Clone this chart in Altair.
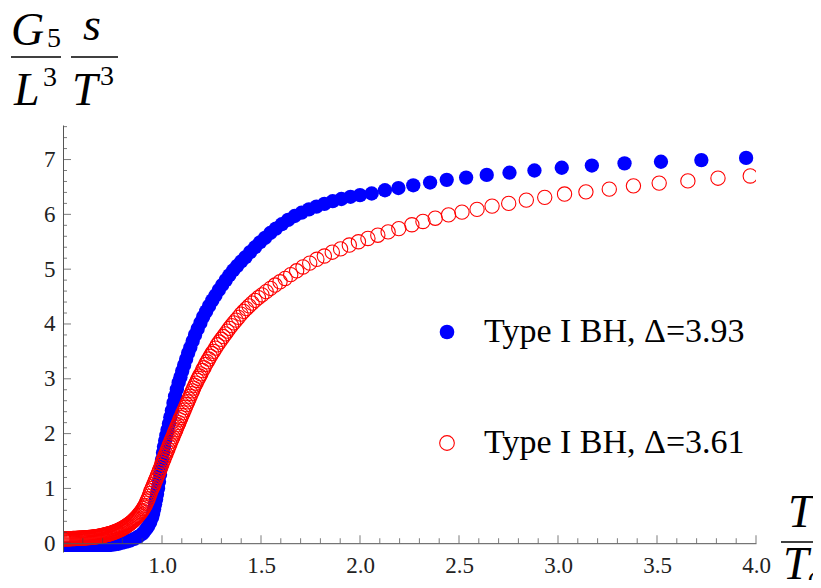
import altair as alt
import pandas as pd

LAB_B = "Type I BH, Δ=3.93"
LAB_R = "Type I BH, Δ=3.61"

blue_T = [0.50, 0.52, 0.54, 0.56, 0.58, 0.60, 0.62, 0.64, 0.66, 0.68, 0.70, 0.72, 0.74, 0.76, 0.78,
          0.80, 0.82, 0.84, 0.86, 0.88, 0.90, 0.91, 0.92, 0.93, 0.94, 0.95, 0.955, 0.96, 0.965, 0.97,
          0.975, 0.98, 0.985, 0.99, 0.995, 1.000, 1.005, 1.010, 1.016, 1.022, 1.028, 1.035, 1.042,
          1.050, 1.058, 1.066, 1.075, 1.084, 1.093, 1.102, 1.112, 1.122, 1.132, 1.143, 1.155, 1.167,
          1.180, 1.194, 1.208, 1.223, 1.238, 1.254, 1.270, 1.287, 1.304, 1.322, 1.340, 1.360, 1.380,
          1.400, 1.422, 1.445, 1.470, 1.495, 1.520, 1.547, 1.575, 1.605, 1.637, 1.670, 1.705, 1.742,
          1.780, 1.820, 1.862, 1.906, 1.952, 2.000,
          2.059, 2.126, 2.194, 2.269, 2.354, 2.438, 2.536, 2.640, 2.755, 2.881, 3.019, 3.171, 3.336,
          3.520, 3.724, 3.950]
blue_S = [-0.10, -0.10, -0.09, -0.09, -0.08, -0.08, -0.07, -0.07, -0.06, -0.05, -0.05, -0.04, -0.03, -0.02, -0.01,
          0.01, 0.03, 0.05, 0.08, 0.12, 0.17, 0.21, 0.26, 0.31, 0.38, 0.47, 0.54, 0.62, 0.71, 0.80,
          0.90, 1.00, 1.12, 1.25, 1.38, 1.52, 1.65, 1.76, 1.87, 1.97, 2.07, 2.18, 2.30,
          2.42, 2.56, 2.68, 2.81, 2.93, 3.03, 3.14, 3.25, 3.36, 3.47, 3.57, 3.69, 3.80,
          3.91, 4.02, 4.13, 4.23, 4.33, 4.43, 4.52, 4.62, 4.71, 4.80, 4.89, 4.98, 5.06,
          5.14, 5.22, 5.31, 5.40, 5.49, 5.57, 5.66, 5.74, 5.82, 5.90, 5.97, 6.03, 6.09,
          6.14, 6.19, 6.24, 6.28, 6.32, 6.35,
          6.38, 6.44, 6.48, 6.53, 6.58, 6.63, 6.67, 6.72, 6.76, 6.80, 6.85, 6.89, 6.93,
          6.96, 6.99, 7.03]

red_T = [0.500, 0.505, 0.510, 0.515, 0.520, 0.525, 0.530, 0.535, 0.540, 0.545,
         0.550, 0.555, 0.560, 0.565, 0.570, 0.575, 0.580, 0.585, 0.590, 0.595,
         0.600, 0.605, 0.610, 0.615, 0.620, 0.625, 0.630, 0.635, 0.640, 0.645,
         0.650, 0.655, 0.660, 0.665, 0.670, 0.675, 0.680, 0.685, 0.690, 0.695,
         0.700, 0.705, 0.710, 0.715, 0.720, 0.725, 0.730, 0.735, 0.740, 0.745,
         0.750, 0.755, 0.760, 0.765, 0.770, 0.775, 0.780, 0.785, 0.790, 0.795,
         0.800, 0.805, 0.810, 0.815, 0.820, 0.825, 0.830, 0.835, 0.840, 0.845,
         0.850, 0.855, 0.860, 0.865, 0.870, 0.875, 0.880, 0.885, 0.890,
         0.895, 0.900, 0.905, 0.910, 0.915, 0.920, 0.925, 0.930, 0.935, 0.940, 0.945, 0.950, 0.955,
         0.960, 0.965, 0.970, 0.975, 0.980, 0.985, 0.990, 0.995, 1.000, 1.005, 1.010, 1.015, 1.020,
         1.025, 1.030, 1.035, 1.040, 1.045, 1.050, 1.055, 1.060, 1.065, 1.070, 1.075, 1.080, 1.085,
         1.090, 1.095, 1.100,
         1.106, 1.112, 1.118, 1.124, 1.130, 1.136, 1.142, 1.148, 1.154, 1.160, 1.166, 1.172, 1.178,
         1.184, 1.190, 1.196,
         1.204, 1.212, 1.220, 1.228, 1.236, 1.244, 1.252, 1.260,
         1.270, 1.280, 1.290, 1.300, 1.310, 1.320, 1.330, 1.340,
         1.351, 1.362, 1.374, 1.386, 1.399, 1.412, 1.426, 1.440, 1.455, 1.470, 1.487, 1.505, 1.526,
         1.548, 1.571, 1.596, 1.622, 1.650, 1.680, 1.712, 1.746, 1.782, 1.820, 1.860, 1.902, 1.946,
         1.992, 2.040, 2.090, 2.142, 2.196, 2.262, 2.318, 2.380, 2.447, 2.515, 2.591, 2.667, 2.751,
         2.840, 2.933, 3.033, 3.141, 3.259, 3.381, 3.511, 3.656, 3.808, 3.971]
red_S = [0.080, 0.080, 0.081, 0.081, 0.082, 0.082, 0.083, 0.083, 0.084, 0.084,
         0.085, 0.086, 0.087, 0.088, 0.089, 0.090, 0.091, 0.092, 0.093, 0.094,
         0.095, 0.096, 0.097, 0.099, 0.100, 0.102, 0.103, 0.105, 0.107, 0.109,
         0.111, 0.113, 0.115, 0.118, 0.121, 0.124, 0.127, 0.130, 0.133, 0.137,
         0.141, 0.145, 0.149, 0.153, 0.158, 0.163, 0.168, 0.173, 0.179, 0.185,
         0.191, 0.197, 0.204, 0.211, 0.218, 0.226, 0.234, 0.242, 0.251, 0.260,
         0.270, 0.280, 0.291, 0.302, 0.314, 0.326, 0.339, 0.352, 0.366, 0.380,
         0.395, 0.411, 0.428, 0.446, 0.465, 0.485, 0.506, 0.528, 0.550,
         0.575, 0.60, 0.63, 0.66, 0.69, 0.73, 0.77, 0.81, 0.86, 0.91, 0.96, 1.00, 1.04,
         1.08, 1.13, 1.17, 1.22, 1.26, 1.31, 1.35, 1.40, 1.45, 1.50, 1.54, 1.59, 1.63,
         1.68, 1.72, 1.77, 1.81, 1.86, 1.90, 1.94, 1.99, 2.03, 2.07, 2.12, 2.16, 2.20,
         2.25, 2.29, 2.33,
         2.38, 2.43, 2.48, 2.53, 2.58, 2.63, 2.68, 2.73, 2.78, 2.83, 2.88, 2.92, 2.97,
         3.01, 3.05, 3.09,
         3.15, 3.20, 3.26, 3.31, 3.36, 3.41, 3.46, 3.50,
         3.56, 3.62, 3.67, 3.72, 3.77, 3.82, 3.87, 3.92,
         3.97, 4.02, 4.07, 4.12, 4.18, 4.23, 4.28, 4.33, 4.38, 4.43, 4.48, 4.53, 4.59,
         4.65, 4.71, 4.77, 4.83, 4.90, 4.97, 5.04, 5.11, 5.18, 5.24, 5.31, 5.37, 5.44,
         5.50, 5.56, 5.62, 5.68, 5.74, 5.81, 5.87, 5.93, 5.99, 6.04, 6.09, 6.15, 6.20,
         6.26, 6.31, 6.37, 6.41, 6.46, 6.52, 6.57, 6.61, 6.66, 6.70]

x_major = [1.0, 1.5, 2.0, 2.5, 3.0, 3.5, 4.0]
x_minor = [0.6, 0.7, 0.8, 0.9, 1.1, 1.2, 1.3, 1.4, 1.6, 1.7, 1.8, 1.9, 2.1, 2.2, 2.3, 2.4,
           2.6, 2.7, 2.8, 2.9, 3.1, 3.2, 3.3, 3.4, 3.6, 3.7, 3.8, 3.9]
y_major = [0, 1, 2, 3, 4, 5, 6, 7]
y_minor = [0.2, 0.4, 0.6, 0.8, 1.2, 1.4, 1.6, 1.8, 2.2, 2.4, 2.6, 2.8, 3.2, 3.4, 3.6, 3.8,
           4.2, 4.4, 4.6, 4.8, 5.2, 5.4, 5.6, 5.8, 6.2, 6.4, 6.6, 6.8, 7.2, 7.4, 7.6]

df = pd.DataFrame({
    "T": blue_T + red_T,
    "S": blue_S + red_S,
    "series": [LAB_B] * len(blue_T) + [LAB_R] * len(red_T),
})

SERIF = "Liberation Serif"
AXC = "#555555"
TKC = "#444444"
W, H = 693, 427
xs = alt.Scale(domain=[0.5, 4.0], nice=False, zero=False)
ys = alt.Scale(domain=[-0.16, 7.63], nice=False, zero=False)

xaxis = alt.Axis(values=x_major, format=".1f", ticks=False, tickSize=0, grid=False,
                 domainColor=AXC, domainWidth=1, labelFont=SERIF, labelFontSize=23,
                 labelColor="#222222", labelPadding=11, offset=-8.8, title=None,
                 zindex=1, labelFlush=False, labelOverlap=False)
yaxis = alt.Axis(values=y_major, format="d", ticks=False, tickSize=0, grid=False,
                 domainColor=AXC, domainWidth=1, labelFont=SERIF, labelFontSize=23,
                 labelColor="#222222", labelPadding=8, title=None, zindex=1,
                 labelFlush=False, labelOverlap=False)

legend = alt.Legend(title=None, orient="none", legendX=367, legendY=190, direction="vertical",
                    labelFont=SERIF, labelFontSize=34, labelColor="black", labelLimit=600,
                    labelOffset=20, rowPadding=77, symbolSize=215, symbolStrokeWidth=1.1,
                    symbolType="circle", padding=0)
dom = [LAB_B, LAB_R]

points = alt.Chart(df).mark_point(shape="circle", size=205, opacity=1, strokeWidth=1.1, clip=True).encode(
    x=alt.X("T:Q", scale=xs, axis=xaxis),
    y=alt.Y("S:Q", scale=ys, axis=yaxis),
    fill=alt.Fill("series:N", scale=alt.Scale(domain=dom, range=["#0000ff", "transparent"]), legend=legend),
    stroke=alt.Stroke("series:N", scale=alt.Scale(domain=dom, range=["transparent", "#ff0000"]), legend=legend),
)


def xticks(vals, size):
    return alt.Chart(pd.DataFrame({"v": vals})).mark_tick(
        orient="vertical", size=size, thickness=1, yOffset=-size / 2, color=TKC
    ).encode(x=alt.X("v:Q", scale=xs, axis=xaxis), y=alt.YDatum(0, scale=ys, axis=yaxis))


def yticks(vals, size):
    return alt.Chart(pd.DataFrame({"v": vals})).mark_tick(
        orient="horizontal", size=size, thickness=1, xOffset=size / 2, color=TKC
    ).encode(y=alt.Y("v:Q", scale=ys, axis=yaxis), x=alt.XDatum(0.5, scale=xs, axis=xaxis))


one = pd.DataFrame({"k": [0]})


def txt(s, x, y, size, italic=True):
    return alt.Chart(one).mark_text(
        text=s, align="left", baseline="alphabetic", font=SERIF,
        fontStyle="italic" if italic else "normal", fontSize=size, color="black"
    ).encode(x=alt.value(x), y=alt.value(y))


def bar(x1, x2, y):
    return alt.Chart(one).mark_rule(color="black", strokeWidth=1.5).encode(
        x=alt.value(x1), x2=alt.value(x2), y=alt.value(y))


FS = 46
SS = 28
labels = [
    txt("G", -52, -80, FS), txt("5", -16, -78, SS, italic=False),
    bar(-52, -2, -68),
    txt("s", 20, -85, FS),
    bar(8, 55, -68),
    txt("L", -49, -20, FS), txt("3", -20, -39, SS, italic=False),
    txt("T", 9, -20, FS), txt("3", 37, -40, SS, italic=False),
    txt("T", 725, 402, FS),
    bar(718, 780, 417),
    txt("T", 720, 454, FS), txt("c", 745, 460, SS),
]

chart = alt.layer(
    points,
    xticks(x_major, 8), xticks(x_minor, 5),
    yticks(y_major, 8), yticks(y_minor, 4),
    *labels,
).properties(
    width=W, height=H,
    autosize=alt.AutoSizeParams(type="none"),
    padding={"left": 55, "top": 117, "right": 57, "bottom": 28},
).configure_view(stroke=None)

chart.save("out.html", embed_options={"renderer": "svg", "actions": False})
